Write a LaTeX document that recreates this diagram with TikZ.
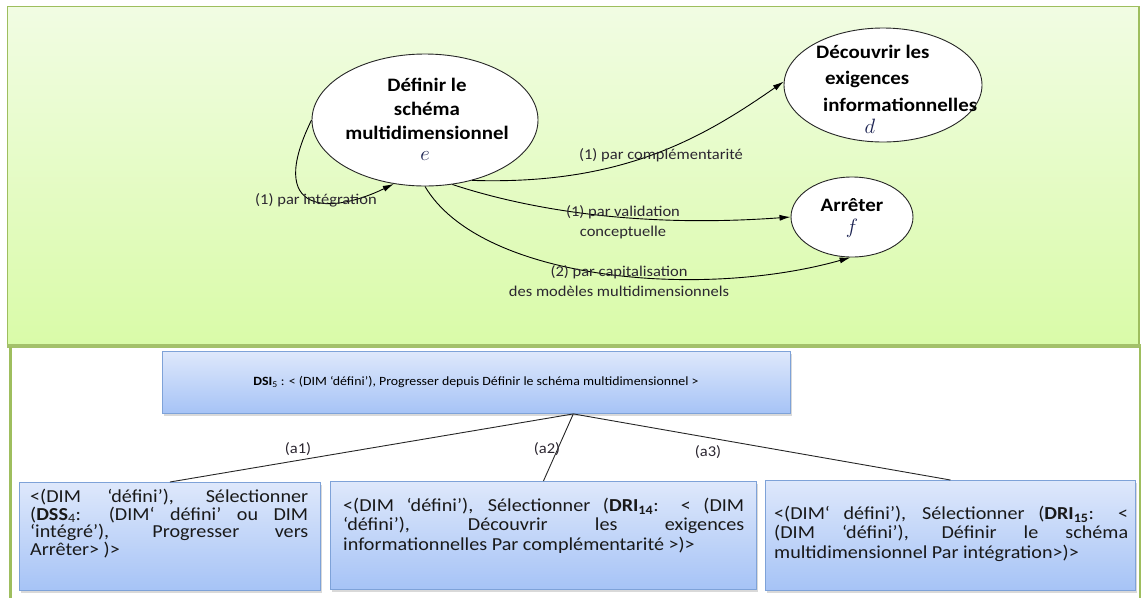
\documentclass[tikz,border=0pt]{standalone}
\usepackage{fontspec}
\setmainfont{Carlito}[FakeStretch=1.1]
\usetikzlibrary{arrows.meta,shadows,shapes.geometric,calc}
\definecolor{gtop}{HTML}{F1FCE3}
\definecolor{gbot}{HTML}{D9FBA8}
\definecolor{gborder}{HTML}{9EBE5E}
\definecolor{gdark}{HTML}{A3C16A}
\definecolor{btop}{HTML}{DEE8FB}
\definecolor{bbot}{HTML}{A6C3F6}
\definecolor{bborder}{HTML}{7EA2D8}
\definecolor{letterc}{HTML}{1A2150}
\definecolor{labelc}{HTML}{2B2630}
\newcommand{\jl}[2]{\makebox[#1][s]{#2}}
\begin{document}
\begin{tikzpicture}[x=1pt,y=-1pt,
  ell/.style={draw=black!85, line width=0.9pt, fill=white, ellipse, inner sep=0pt},
  etxt/.style={font=\fontsize{19}{24}\selectfont\bfseries, align=center, text=black, inner sep=0pt},
  ltr/.style={font=\fontsize{20}{24}\selectfont, text=letterc, inner sep=0pt},
  lbl/.style={font=\fontsize{15}{20}\selectfont, text=labelc, align=center, inner sep=0pt},
  arr/.style={draw=black, line width=0.9pt, -{Latex[length=11pt,width=6pt]}},
  box/.style={draw=bborder, line width=0.9pt, top color=btop, bottom color=bbot, rectangle, inner sep=0pt, anchor=north west,
     drop shadow={shadow xshift=2pt, shadow yshift=-3pt, opacity=0.3}},
  btxt/.style={align=left, anchor=north west, inner sep=0pt, text=black!90},
  tline/.style={draw=black!85, line width=0.9pt},
]
\useasboundingbox (0,0) rectangle (1141,598);
% green panel
\draw[gborder, line width=1.2pt, top color=gtop, bottom color=gbot] (7.5,6.5) rectangle (1139,346);
\draw[gdark, line width=3.5pt] (7,346) -- (1140.5,346);
\draw[gborder, line width=3pt] (10.5,347) -- (10.5,598);
\draw[gborder, line width=2pt] (1140,347) -- (1140,598);

% ellipses
\node[ell, minimum width=226pt, minimum height=132pt] (e) at (425,120) {};
\node[etxt] (et) at (427,109) {Définir le\\schéma\\multidimensionnel};
\node[ltr] (el) at (425,156) {$e$};
\node[ell, minimum width=198pt, minimum height=114pt] (d) at (883,85) {};
\node[etxt, align=left, anchor=north west] (dt) at (816,45) {Découvrir les\\[2pt]\hspace*{9pt}exigences\\[3pt]\hspace*{7pt}informationnelles};
\node[ltr] (dl) at (870,126) {$d$};
\node[ell, minimum width=122pt, minimum height=80pt] (f) at (852,217) {};
\node[etxt] (ft) at (852,205) {Arrêter};
\node[ltr] (fl) at (852,228) {$f$};

% connectors
\draw[arr] (e.180) .. controls (265,215) and (330,215) .. (e.-116);
\draw[arr] (e.-52) .. controls (620,185) and (700,140) .. (d.178);
\draw[arr] (e.-67) .. controls (530,210) and (640,228) .. (f.180);
\draw[arr] (e.-90) .. controls (480,280) and (700,300) .. (f.-92);

% edge labels
\node[lbl] (l1) at (316,200) {(1) par intégration};
\node[lbl] (l2) at (661,155) {(1) par complémentarité};
\node[lbl] (l3) at (623,222) {(1) par validation\\conceptuelle};
\node[lbl] (l4) at (619,281.5) {(2) par capitalisation\\des modèles multidimensionnels};

% tree
\node[box, minimum width=628pt, minimum height=62pt] (dsi) at (162,351) {};
\node[font=\fontsize{12.6}{16}\selectfont, inner sep=0pt] (dsit) at (476,382) {\textbf{DSI}\textsubscript{5} : < (DIM ‘défini’), Progresser depuis Définir le schéma multidimensionnel >};
\node[box, minimum width=301pt, minimum height=108pt] (b1) at (19,482) {};
\node[box, minimum width=426pt, minimum height=108pt] (b2) at (330,481) {};
\node[box, minimum width=370pt, minimum height=110pt] (b3) at (765,480) {};
\coordinate (apex) at ($(dsi.south west)!0.654!(dsi.south east)$);
\draw[tline] (apex) -- (b1.north);
\draw[tline] (apex) -- (b2.north);
\draw[tline] (apex) -- (b3.north);
\node[lbl] (a1) at (298,449) {(a1)};
\node[lbl] (a2) at (547,449) {(a2)};
\node[lbl] (a3) at (708,452) {(a3)};

\node[btxt, font=\fontsize{18.3}{17.5}\selectfont] (t1) at (30,489) {%
\jl{278pt}{<(DIM ‘défini’), Sélectionner}\\
\jl{278pt}{(\textbf{DSS}\textsubscript{4}: (DIM‘ défini’ ou DIM}\\
\jl{278pt}{‘intégré’), Progresser vers}\\
Arrêter> )>};
\node[btxt, font=\fontsize{18.3}{19.3}\selectfont] (t2) at (343,498) {%
\jl{401pt}{<(DIM ‘défini’), Sélectionner (\textbf{DRI\textsubscript{14}}: < (DIM}\\
\jl{401pt}{‘défini’), Découvrir les exigences}\\
informationnelles Par complémentarité >)>};
\node[btxt, font=\fontsize{18.3}{19.3}\selectfont] (t3) at (774,506) {%
\jl{354pt}{<(DIM‘ défini’), Sélectionner (\textbf{DRI\textsubscript{15}}: <}\\
\jl{354pt}{(DIM ‘défini’), Définir le schéma}\\
multidimensionnel Par intégration>)>};
\end{tikzpicture}
\end{document}
